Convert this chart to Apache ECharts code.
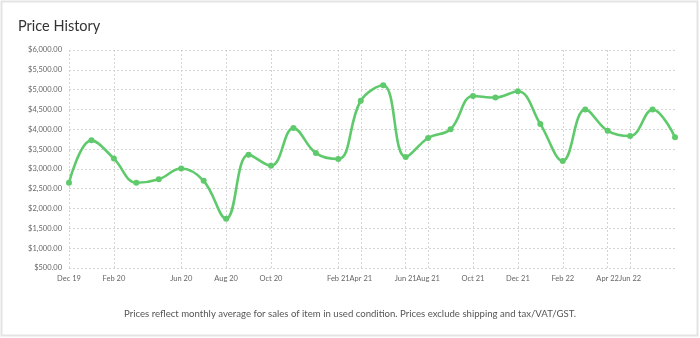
<!DOCTYPE html>
<html>
<head>
<meta charset="utf-8">
<title>Price History</title>
<script src="https://cdn.jsdelivr.net/npm/echarts@6/dist/echarts.min.js"></script>
<style>
  html, body { margin: 0; padding: 0; background: #fff; }
  #chart { width: 700px; height: 338px; }
</style>
</head>
<body>
<div id="chart"></div>
<script>
// Monthly average sale prices (USD), one point per period with sales
const tickLabels = [
  'Dec 19', '', 'Feb 20', '', '', 'Jun 20', '', 'Aug 20', '', 'Oct 20',
  '', '', 'Feb 21', 'Apr 21', '', 'Jun 21', 'Aug 21', '', 'Oct 21', '',
  'Dec 21', '', 'Feb 22', '', 'Apr 22', 'Jun 22', '', ''
];
const prices = [
  2650, 3720, 3260, 2650, 2740, 3010, 2700, 1740, 3360, 3080,
  4030, 3400, 3250, 4720, 5110, 3300, 3780, 4000, 4840, 4800,
  4960, 4130, 3200, 4500, 3960, 3830, 4500, 3800
];
const yMin = 500;
const yMax = 6000;
const yStep = 500;

const FONT = 'Lato, "Open Sans", sans-serif';
const hasLabel = (i) => tickLabels[i] !== '';
const money = (v) => '$' + v.toLocaleString('en-US', { minimumFractionDigits: 2, maximumFractionDigits: 2 });

const chart = echarts.init(document.getElementById('chart'), null, { renderer: 'canvas' });
chart.setOption({
  animation: false,
  textStyle: { fontFamily: FONT },
  title: {
    text: 'Price History',
    left: 18, top: 19, padding: 0,
    textStyle: { fontFamily: FONT, fontSize: 14.5, fontWeight: 'normal', color: '#333' }
  },
  graphic: [
    {
      type: 'rect',
      shape: { x: 1.5, y: 1.5, width: 696, height: 334 },
      style: { fill: 'none', stroke: '#e4e4e4', lineWidth: 2 },
      silent: true
    },
    {
      type: 'text',
      left: 'center', top: 309,
      style: {
        text: 'Prices reflect monthly average for sales of item in used condition. Prices exclude shipping and tax/VAT/GST.',
        font: '9.6px ' + FONT,
        fill: '#555'
      },
      silent: true
    }
  ],
  grid: { left: 69, right: 25, top: 50, bottom: 70, containLabel: false },
  xAxis: {
    type: 'category',
    data: tickLabels,
    boundaryGap: false,
    axisLine: { show: false },
    axisTick: { show: false },
    axisLabel: {
      interval: (i) => hasLabel(i),
      hideOverlap: false,
      color: '#666', fontSize: 7.5, fontFamily: FONT, margin: 7
    },
    splitLine: {
      show: true,
      interval: (i) => hasLabel(i),
      lineStyle: { color: '#d4d4d4', type: [2, 2], width: 1 }
    }
  },
  yAxis: {
    type: 'value',
    min: yMin, max: yMax, interval: yStep,
    axisLine: { show: false },
    axisTick: { show: false },
    axisLabel: {
      formatter: money,
      color: '#666', fontSize: 7.5, fontFamily: FONT, margin: 7
    },
    splitLine: { lineStyle: { color: '#d4d4d4', type: [2, 2], width: 1 } }
  },
  series: [{
    type: 'line',
    data: prices,
    smooth: 0.4,
    symbol: 'circle',
    symbolSize: 6,
    lineStyle: { color: '#5fca6c', width: 2.6 },
    itemStyle: { color: '#5fca6c' }
  }]
});
</script>
</body>
</html>
